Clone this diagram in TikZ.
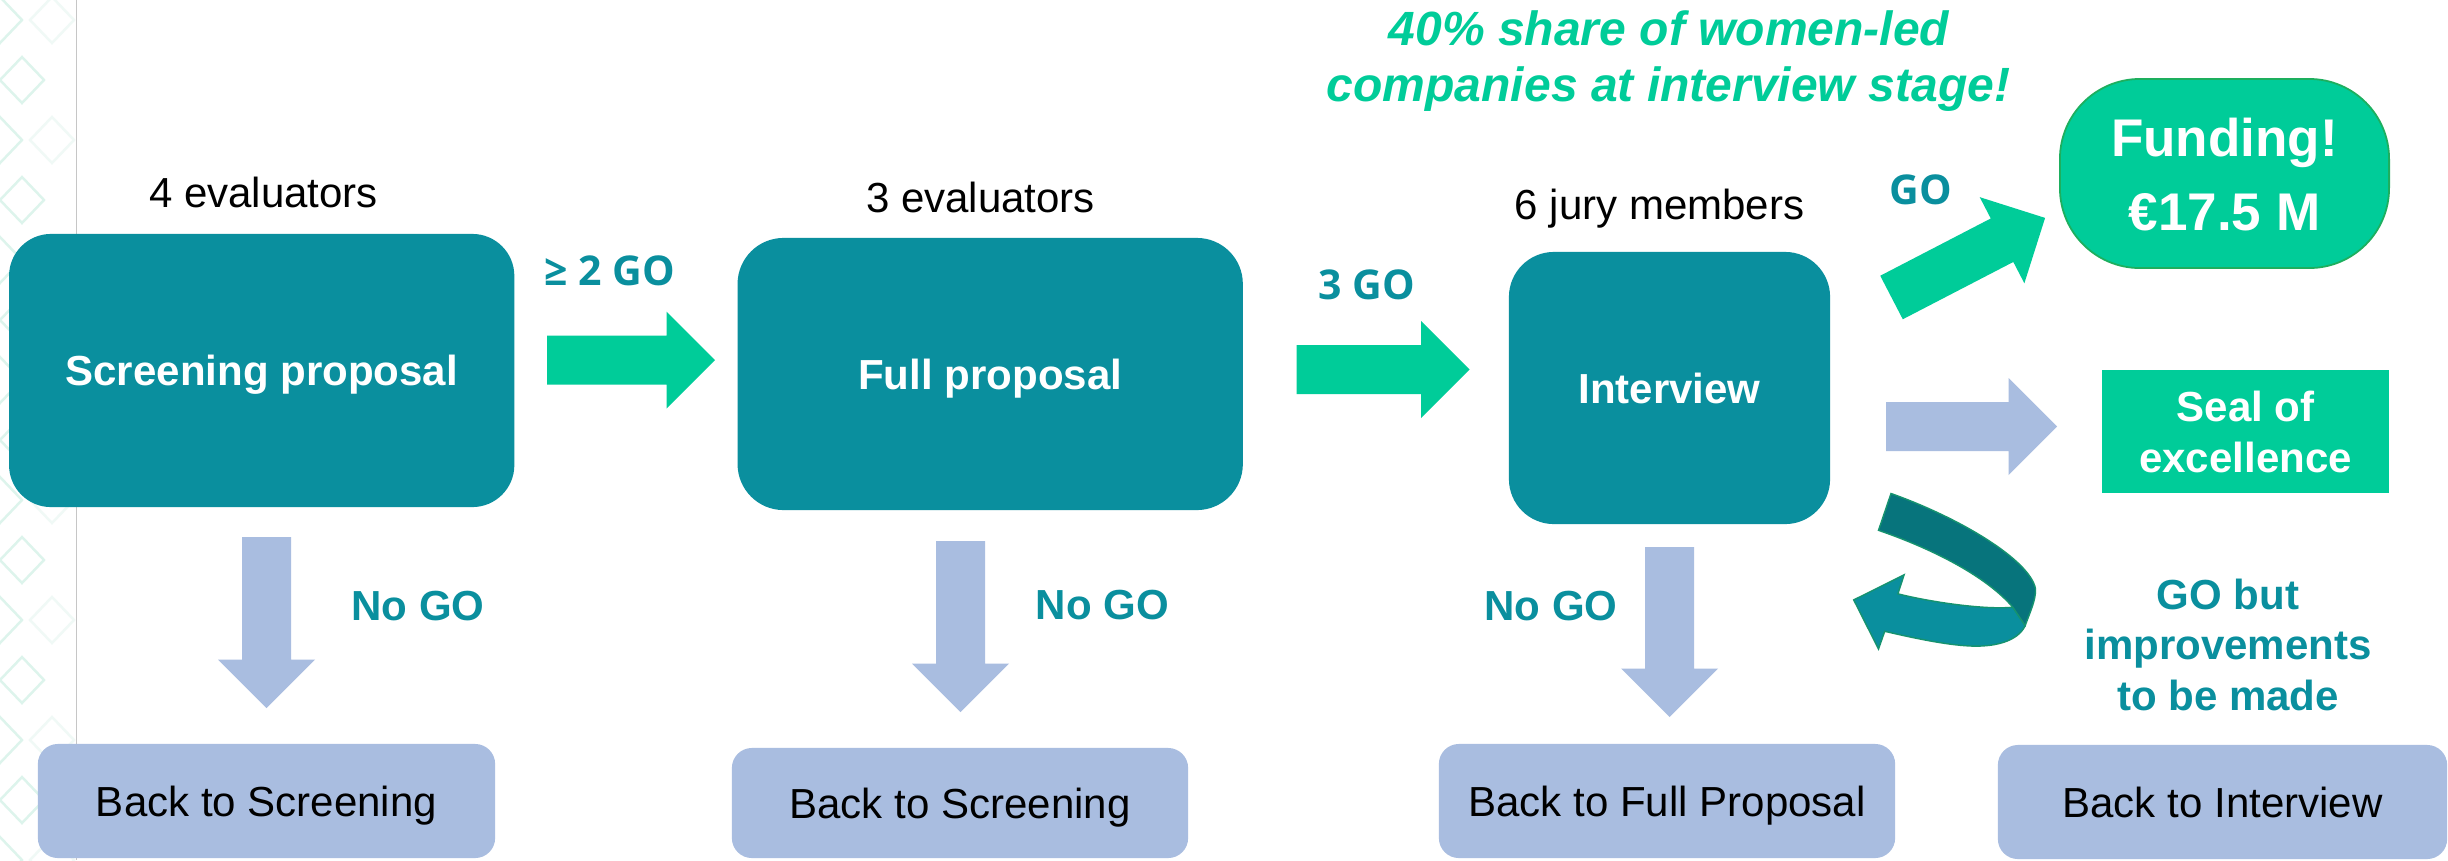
\documentclass[tikz,border=0pt]{standalone}
\usepackage{fontspec}
\setmainfont{Liberation Sans}
\newfontfamily\opensans{Open Sans}
\definecolor{teal1}{HTML}{0A8F9E}
\definecolor{green1}{HTML}{00CC99}
\definecolor{lblue}{HTML}{A9BDE0}
\definecolor{dteal}{HTML}{07747C}
\definecolor{ribedge}{HTML}{16936F}
\definecolor{fundedge}{HTML}{1DAF5E}
\definecolor{mint}{HTML}{DDF4EC}
\definecolor{mintl}{HTML}{F0F9F6}
\begin{document}
\begin{tikzpicture}[x=0.01cm,y=-0.01cm,
  bigbox/.style={fill=teal1, rounded corners=0.44cm, inner sep=0pt, text=white,
    font=\bfseries\fontsize{11.95pt}{14pt}\selectfont, text height=8.56pt, text depth=0pt},
  backbox/.style={fill=lblue, rounded corners=0.2cm, inner sep=0pt, text=black,
    font=\fontsize{11.95pt}{14pt}\selectfont, text height=8.56pt, text depth=0pt},
  plain/.style={font=\fontsize{11.95pt}{14pt}\selectfont, anchor=base, inner sep=0pt},
  golab/.style={font=\opensans\bfseries\fontsize{11.67pt}{14pt}\selectfont, text=teal1, anchor=base, inner sep=0pt},
  nogo/.style={font=\bfseries\fontsize{11.95pt}{14pt}\selectfont, text=teal1, anchor=base, inner sep=0pt},
  whitelab/.style={font=\bfseries\fontsize{11.95pt}{14pt}\selectfont, text=white, anchor=base, inner sep=0pt},
  fundlab/.style={font=\bfseries\fontsize{15.08pt}{18pt}\selectfont, text=white, anchor=base, inner sep=0pt},
  titlelab/.style={font=\bfseries\itshape\fontsize{13.66pt}{16pt}\selectfont, text=green1, anchor=base, inner sep=0pt},
  improvelab/.style={font=\bfseries\fontsize{11.95pt}{14pt}\selectfont, text=teal1, anchor=base, inner sep=0pt},
  diam/.style={line width=0.7pt},
  pics/barrow/.style={code={\path[pic actions] (0,-24.5) -- ({#1-48.5},-24.5) -- ({#1-48.5},-48.5) -- (#1,0) -- ({#1-48.5},48.5) -- ({#1-48.5},24.5) -- (0,24.5) -- cycle;}}
]
\useasboundingbox (0,0) rectangle (2448,860);
\fill[white] (0,0) rectangle (2448,860);

% left decorative strip
\begin{scope}
\clip (0,0) rectangle (76,860);
\foreach \k in {0,...,7} {
  \draw[diam, draw=mint] (0,{20+120*\k-23}) -- (22,{20+120*\k}) -- (0,{20+120*\k+23}) -- (-22,{20+120*\k}) -- cycle;
  \draw[diam, draw=mint] (22,{80+120*\k-23}) -- (44,{80+120*\k}) -- (22,{80+120*\k+23}) -- (0,{80+120*\k}) -- cycle;
  \draw[diam, draw=mintl] (52,{20+120*\k-23}) -- (74,{20+120*\k}) -- (52,{20+120*\k+23}) -- (30,{20+120*\k}) -- cycle;
}
\end{scope}
\draw[gray!45, line width=0.3pt] (76.7,0) -- (76.7,860);

% title
\node[titlelab] (t1) at (1669,45) {40\% share of women-led};
\node[titlelab] (t2) at (1668.5,101.7) {companies at interview stage!};

% main boxes
\node[bigbox, minimum width=5.05cm, minimum height=2.73cm, rounded corners=0.42cm] (scr) at (261.7,370.5) {Screening proposal};
\node[bigbox, minimum width=5.05cm, minimum height=2.72cm, rounded corners=0.46cm] (full) at (990.2,374) {Full proposal};
\node[bigbox, minimum width=3.21cm, minimum height=2.72cm, rounded corners=0.45cm] (intv) at (1669.5,388) {Interview};

% captions above
\node[plain] (ev4) at (263.5,207) {4 evaluators};
\node[plain] (ev3) at (980.5,212) {3 evaluators};
\node[plain] (jury) at (1659.5,219) {6 jury members};

% back boxes
\node[backbox, minimum width=4.57cm, minimum height=1.14cm] (back1) at (266.5,801) {Back to Screening};
\node[backbox, minimum width=4.56cm, minimum height=1.10cm] (back2) at (960,803) {Back to Screening};
\node[backbox, minimum width=4.56cm, minimum height=1.14cm] (back3) at (1667,801) {Back to Full Proposal};
\node[backbox, minimum width=4.49cm, minimum height=1.14cm] (back4) at (2222.5,802) {Back to Interview};

% outcome boxes
\node[fill=green1, draw=fundedge, line width=0.5pt, rounded corners=0.8cm, minimum width=3.29cm, minimum height=1.89cm, inner sep=0pt] (fund) at (2224.5,173.5) {};
\node[fundlab] (fund1) at (2224.5,156) {Funding!};
\node[fundlab] (fund2) at (2224.5,230) {€17.5 M};
\node[fill=green1, minimum width=2.87cm, minimum height=1.23cm, inner sep=0pt] (seal) at (2245.5,431.5) {};
\node[whitelab] (seal1) at (2245.5,421) {Seal of};
\node[whitelab] (seal2) at (2245.5,472) {excellence};

% GO labels
\node[golab] (go2) at (609.5,285) {≥ 2 GO};
\node[golab] (go3) at (1366.7,299) {3 GO};
\node[golab] (go) at (1921,204) {GO};
\node[nogo] (nogo1) at (418,620) {No GO};
\node[nogo] (nogo2) at (1102.5,619) {No GO};
\node[nogo] (nogo3) at (1551,620.7) {No GO};
\node[improvelab] (imp1) at (2228,609) {GO but};
\node[improvelab] (imp2) at (2228,659) {improvements};
\node[improvelab] (imp3) at (2228,710) {to be made};

% block arrows
\pic[fill=green1] at (547,360) {barrow=168};
\pic[fill=green1] at (1296.7,369.5) {barrow=173};
\pic[fill=green1, rotate=27.4] at (1891.5,297.5) {barrow=173};
\pic[fill=lblue] at (1886,426.5) {barrow=171};
\pic[fill=lblue, rotate=-90] at (266.5,537) {barrow=171};
\pic[fill=lblue, rotate=-90] at (960.5,541) {barrow=171};
\pic[fill=lblue, rotate=-90] at (1669.5,547) {barrow=170};

% curved return arrow
\path[fill=teal1, draw=ribedge, line width=0.4pt] (2012.8,607.2) -- (2025.2,625.6)
  .. controls (2018,641) and (1995,648) .. (1965.3,645.7)
  .. controls (1940,644) and (1905,636) .. (1884.7,631.3)
  -- (1878.5,649) -- (1853.7,599.9) -- (1904.1,574.8) -- (1897.9,593.8)
  .. controls (1930,602) and (1985,610) .. (2012.8,607.2) -- cycle;
\path[fill=dteal, draw=ribedge, line width=0.4pt] (1891,493.5)
  .. controls (1960,518) and (2030,560) .. (2035.5,588.8)
  .. controls (2036,600) and (2030,612) .. (2025.2,625.6)
  -- (2012.8,607.2)
  .. controls (1985,575) and (1930,548) .. (1878.5,530.3) -- cycle;
\end{tikzpicture}
\end{document}
